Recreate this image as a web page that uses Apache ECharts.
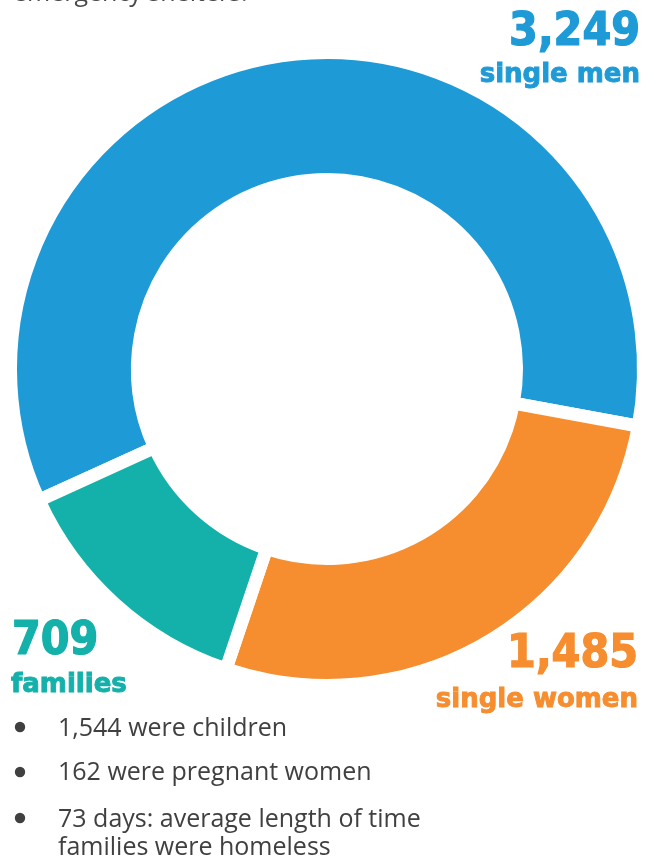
<!DOCTYPE html>
<html>
<head>
<meta charset="utf-8">
<script src="https://cdn.jsdelivr.net/npm/echarts@6/dist/echarts.min.js"></script>
<style>
html,body{margin:0;padding:0;background:#fff;}
#chart{width:656px;height:859px;}
</style>
</head>
<body>
<div id="chart"></div>
<script>
const categories = ['single men', 'single women', 'families'];
const values = [3249, 1485, 709];
const colors = ['#1E9AD6', '#F68D2E', '#14B0AA'];
const introText = 'emergency shelters.';
const bulletLines = [
  ['1,544 were children'],
  ['162 were pregnant women'],
  ['73 days: average length of time', 'families were homeless']
];

const fmt = v => v.toLocaleString('en-US');
const numFont = "bold 46px 'DejaVu Sans Condensed', 'Liberation Sans', sans-serif";
const wordFont = "bold 26px 'DejaVu Sans', sans-serif";
const bodyFont = "25px 'Open Sans', sans-serif";
const gray = '#404040';

const chart = echarts.init(document.getElementById('chart'), null, {renderer: 'canvas'});

const graphics = [];
function txt(text, x, y, font, fill, align, sw) {
  const style = {text, x, y, font, fill, textAlign: align, textVerticalAlign: 'middle'};
  if (sw) { style.stroke = fill; style.lineWidth = sw; }
  graphics.push({type: 'text', silent: true, style});
}
txt(introText, 13, -6, bodyFont, '#4a4a4a', 'left');
// labels
txt(fmt(values[0]), 640, 33, numFont, colors[0], 'right', 1.2);
txt(categories[0], 640, 75, wordFont, colors[0], 'right', 0.9);
txt(fmt(values[1]), 638, 655, numFont, colors[1], 'right', 1.2);
txt(categories[1], 638, 700, wordFont, colors[1], 'right', 0.9);
txt(fmt(values[2]), 12, 642, numFont, colors[2], 'left', 1.2);
txt(categories[2], 11, 685, wordFont, colors[2], 'left', 0.9);
// bullets
const bulletY = [729, 773, 820];
const dotY = [727, 772, 818];
bulletLines.forEach((lines, i) => {
  graphics.push({type: 'circle', silent: true, shape: {cx: 20, cy: dotY[i], r: 5.2}, style: {fill: gray}});
  lines.forEach((l, j) => txt(l, 58, bulletY[i] + j * 28, bodyFont, gray, 'left'));
});

chart.setOption({
  animation: false,
  backgroundColor: '#ffffff',
  graphic: graphics,
  series: [{
    type: 'pie',
    silent: true,
    center: [327, 369],
    radius: [189.5, 316.5],
    startAngle: 204.5,
    clockwise: true,
    label: {show: false},
    labelLine: {show: false},
    itemStyle: {borderColor: '#ffffff', borderWidth: 13},
    data: categories.map((c, i) => ({name: c, value: values[i], itemStyle: {color: colors[i]}}))
  }]
});
</script>
</body>
</html>
